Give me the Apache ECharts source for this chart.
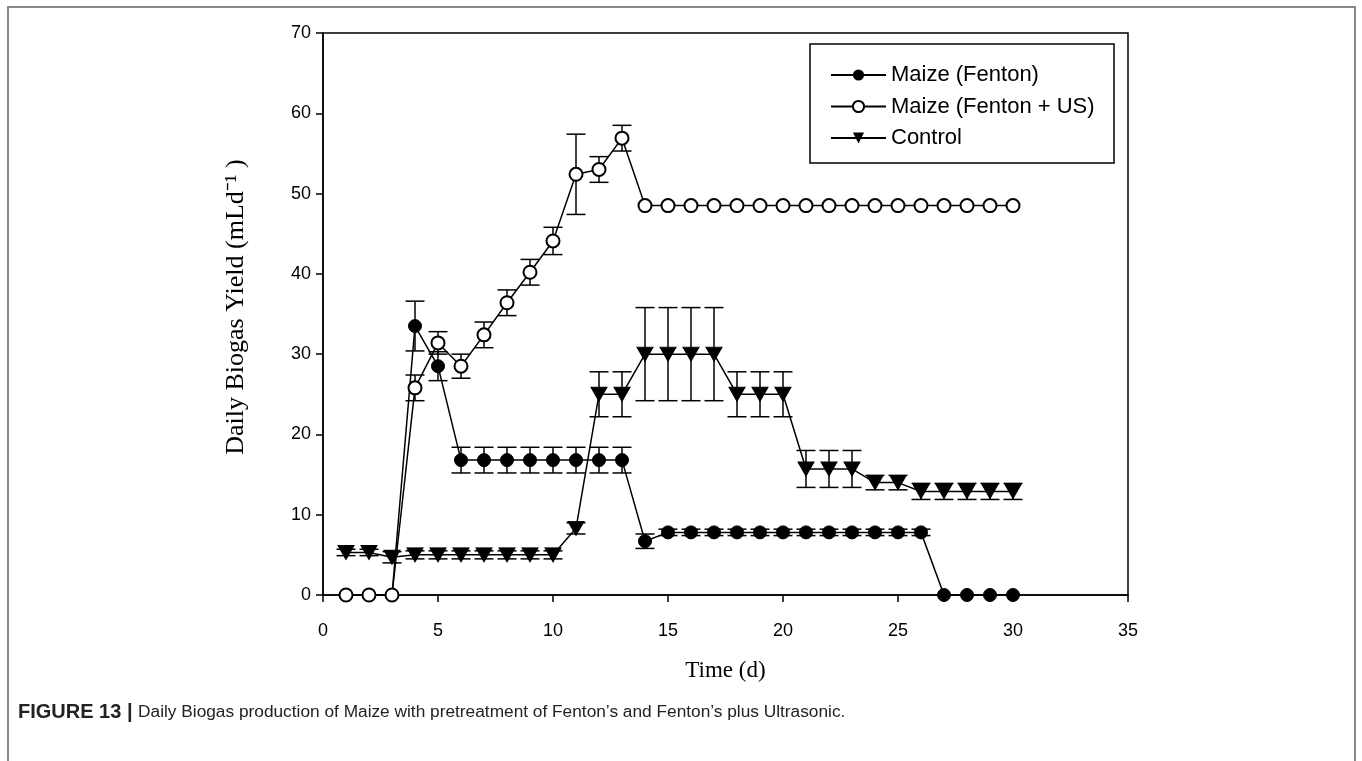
<!DOCTYPE html>
<html><head><meta charset="utf-8">
<script src="https://cdn.jsdelivr.net/npm/echarts@6/dist/echarts.min.js"></script>
<style>html,body{margin:0;padding:0;background:#fff}#c{width:1362px;height:761px}</style>
</head><body><div id="c"></div>
<script>
// ---- data ----
const days = [1,2,3,4,5,6,7,8,9,10,11,12,13,14,15,16,17,18,19,20,21,22,23,24,25,26,27,28,29,30];
const seriesNames = ['Maize (Fenton)', 'Maize (Fenton + US)', 'Control'];
const fentonValues = [0,0,0,33.5,28.5,16.8,16.8,16.8,16.8,16.8,16.8,16.8,16.8,6.7,7.8,7.8,7.8,7.8,7.8,7.8,7.8,7.8,7.8,7.8,7.8,7.8,0,0,0,0];
const fentonErr    = [0,0,0,3.1,1.8,1.6,1.6,1.6,1.6,1.6,1.6,1.6,1.6,0.9,0.4,0.4,0.4,0.4,0.4,0.4,0.4,0.4,0.4,0.4,0.4,0.4,0,0,0,0];
const usValues = [0,0,0,25.8,31.4,28.5,32.4,36.4,40.2,44.1,52.4,53.0,56.9,48.5,48.5,48.5,48.5,48.5,48.5,48.5,48.5,48.5,48.5,48.5,48.5,48.5,48.5,48.5,48.5,48.5];
const usErr    = [0,0,0,1.6,1.4,1.5,1.6,1.6,1.6,1.7,5.0,1.6,1.6,0,0,0,0,0,0,0,0,0,0,0,0,0,0,0,0,0];
const controlValues = [5.3,5.3,4.7,5.0,5.0,5.0,5.0,5.0,5.0,5.0,8.3,25.0,25.0,30.0,30.0,30.0,30.0,25.0,25.0,25.0,15.7,15.7,15.7,14.0,14.0,12.9,12.9,12.9,12.9,12.9];
const controlErr    = [0.4,0.4,0.7,0.5,0.5,0.5,0.5,0.5,0.5,0.5,0.7,2.8,2.8,5.8,5.8,5.8,5.8,2.8,2.8,2.8,2.3,2.3,2.3,0.9,0.9,1.0,1.0,1.0,1.0,1.0];
const xAxisTitle = 'Time (d)';
const yAxisTitle = 'Daily Biogas Yield (mLd⁻¹ )';
const caption = 'Daily Biogas production of Maize with pretreatment of Fenton’s and Fenton’s plus Ultrasonic.';
const captionLabel = 'FIGURE 13 | ';

// ---- build ----
const pts = (vals) => days.map((d, i) => [d, vals[i]]);
const errPts = (vals, errs) => days.map((d, i) => [d, vals[i] - errs[i], vals[i] + errs[i]]);

function errRender(params, api) {
  const x = api.value(0), lo = api.value(1), hi = api.value(2);
  if (!(hi - lo > 0)) return;
  const t = api.coord([x, hi]), b = api.coord([x, lo]);
  const hw = 9.5, st = { stroke: '#000', lineWidth: 1.5 };
  return { type: 'group', children: [
    { type: 'line', shape: { x1: t[0], y1: t[1], x2: b[0], y2: b[1] }, style: st },
    { type: 'line', shape: { x1: t[0] - hw, y1: t[1], x2: t[0] + hw, y2: t[1] }, style: st },
    { type: 'line', shape: { x1: b[0] - hw, y1: b[1], x2: b[0] + hw, y2: b[1] }, style: st }
  ]};
}
const errSeries = (vals, errs, z) => ({
  type: 'custom', renderItem: errRender, data: errPts(vals, errs),
  encode: { x: 0, y: [1, 2] }, z: z, silent: true, animation: false
});

const lineBase = { type: 'line', lineStyle: { color: '#000', width: 1.5 }, animation: false, showAllSymbol: true };

const chart = echarts.init(document.getElementById('c'), null, { renderer: 'canvas' });
chart.setOption({
  backgroundColor: '#fff',
  animation: false,
  grid: { left: 323, right: 234, top: 33, bottom: 166, show: true, borderColor: '#000', borderWidth: 1.5, containLabel: false },
  xAxis: {
    type: 'value', min: 0, max: 35, interval: 5,
    axisLine: { show: true, lineStyle: { color: '#000', width: 1.5 } },
    axisTick: { show: true, inside: false, length: 7, lineStyle: { color: '#000', width: 1.5 } },
    axisLabel: { color: '#000', fontSize: 18, fontFamily: 'Liberation Sans', margin: 27 },
    splitLine: { show: false },
    name: xAxisTitle, nameLocation: 'middle', nameGap: 64,
    nameTextStyle: { color: '#000', fontSize: 23, fontFamily: 'Liberation Serif' }
  },
  yAxis: {
    type: 'value', min: 0, max: 70, interval: 10,
    axisLine: { show: true, lineStyle: { color: '#000', width: 1.5 } },
    axisTick: { show: true, inside: false, length: 7, lineStyle: { color: '#000', width: 1.5 } },
    axisLabel: { color: '#000', fontSize: 18, fontFamily: 'Liberation Sans', margin: 12 },
    splitLine: { show: false },
    name: yAxisTitle, nameLocation: 'middle', nameGap: 74, nameRotate: 90,
    nameTextStyle: { color: '#000', fontSize: 26, fontFamily: 'Liberation Serif', padding: [0, 0, 0, 14] }
  },
  legend: {
    data: seriesNames, orient: 'vertical', left: 825, top: 59,
    itemWidth: 55, itemHeight: 14, itemGap: 9.5,
    textStyle: { color: '#000', fontSize: 22, fontFamily: 'Liberation Sans' },
    selectedMode: false
  },
  graphic: [
    { type: 'rect', shape: { x: 810, y: 44, width: 304, height: 119 }, style: { fill: 'none', stroke: '#000', lineWidth: 1.5 }, z: 10 },
    { type: 'rect', shape: { x: 8, y: 7, width: 1347, height: 800 }, style: { fill: 'none', stroke: '#888', lineWidth: 2 }, z: 10 },
    { type: 'text', left: 18, top: 702, style: {
      text: '{b|' + captionLabel + '}' + caption,
      fontSize: 17.3, fontFamily: 'Liberation Sans', fill: '#222',
      rich: { b: { fontWeight: 'bold', fontSize: 20, fontFamily: 'Liberation Sans', fill: '#222' } }
    } }
  ],
  series: [
    errSeries(fentonValues, fentonErr, 1),
    errSeries(controlValues, controlErr, 1),
    errSeries(usValues, usErr, 1),
    Object.assign({}, lineBase, { name: seriesNames[0], data: pts(fentonValues), symbol: 'circle', symbolSize: 13,
      itemStyle: { color: '#000', borderColor: '#000' }, z: 2 }),
    Object.assign({}, lineBase, { name: seriesNames[2], data: pts(controlValues), symbol: 'triangle', symbolRotate: 180, symbolSize: [16, 14],
      itemStyle: { color: '#000', borderColor: '#000' }, z: 3 }),
    Object.assign({}, lineBase, { name: seriesNames[1], data: pts(usValues), symbol: 'emptyCircle', symbolSize: 13,
      itemStyle: { color: '#000', borderColor: '#000', borderWidth: 1.5 }, z: 4 })
  ]
});
</script>
</body></html>
